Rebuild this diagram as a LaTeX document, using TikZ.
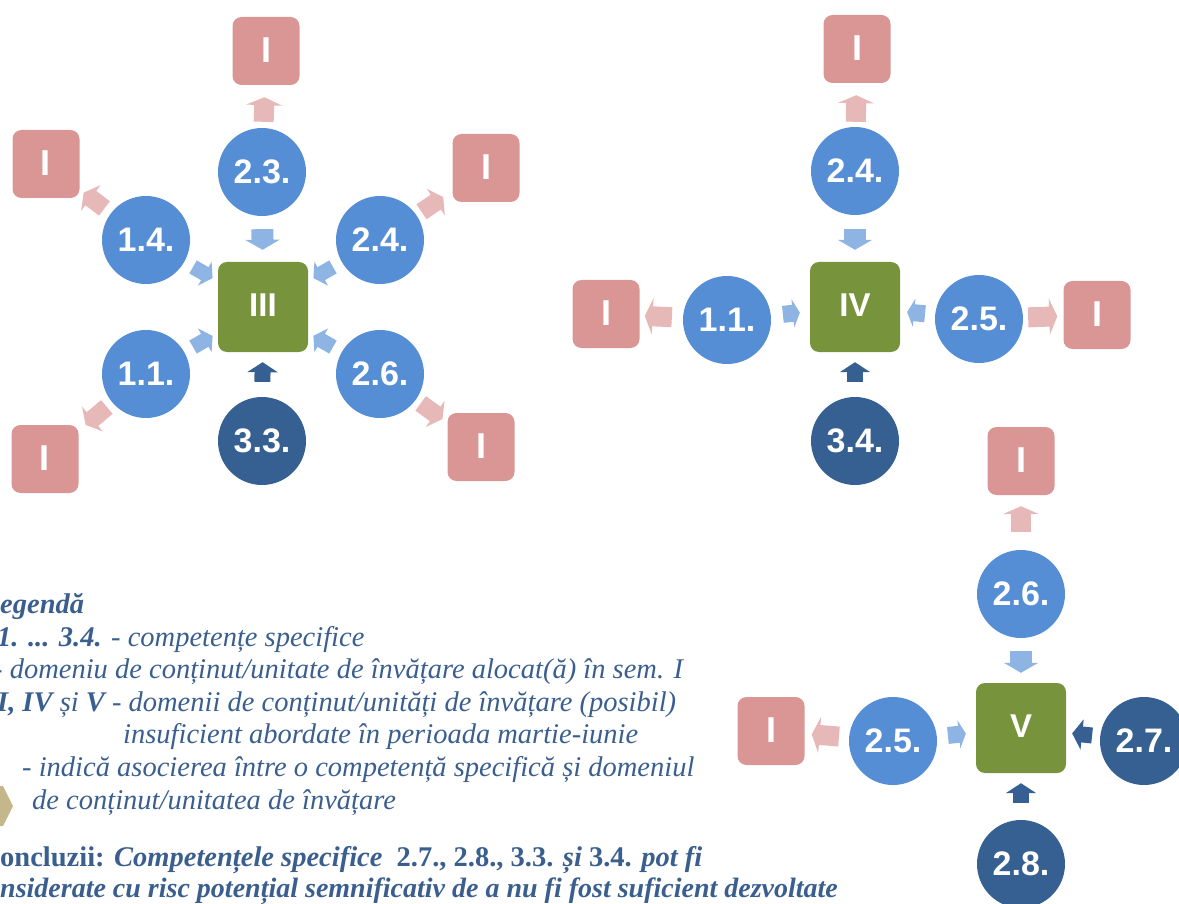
\documentclass[tikz,border=0pt]{standalone}
\usepackage{fontspec}
\setmainfont{Liberation Serif}
\newfontfamily\sansb{Liberation Sans}
\usetikzlibrary{arrows.meta}
\definecolor{cblue}{HTML}{558ED5}
\definecolor{cdark}{HTML}{366092}
\definecolor{cgreen}{HTML}{77933C}
\definecolor{cpink}{HTML}{D99694}
\definecolor{cpinkarr}{HTML}{E6B9B8}
\definecolor{cbluearr}{HTML}{8EB4E3}
\definecolor{ctext}{HTML}{3A5F8F}
\definecolor{ctan}{HTML}{C4B78C}
\tikzset{
  comp/.style={circle, fill=cblue, minimum size=88pt, inner sep=0pt, text=white, font=\sansb\bfseries\fontsize{34}{40}\selectfont},
  compd/.style={comp, fill=cdark},
  sem/.style={rectangle, rounded corners=9pt, fill=cpink, minimum width=67pt, minimum height=68pt, inner sep=0pt, text=white, font=\sansb\bfseries\fontsize{36}{40}\selectfont},
  dom/.style={rectangle, rounded corners=9pt, fill=cgreen, minimum width=90pt, minimum height=90pt, inner sep=0pt, text=white, font=\sansb\bfseries\fontsize{33}{40}\selectfont},
  parr/.style={draw=cpinkarr, line width=20pt, -{Triangle[length=8pt, width=36pt]}},
  pdarr/.style={draw=cpinkarr, line width=18pt, -{Triangle[length=9pt, width=32pt]}},
  bvarr/.style={draw=cbluearr, line width=22pt, -{Triangle[length=10pt, width=34pt]}},
  bsarr/.style={draw=cbluearr, line width=17pt, -{Triangle[length=7pt, width=28pt]}},
  bdarr/.style={draw=cbluearr, line width=15pt, -{Triangle[length=9pt, width=27pt]}},
  darr/.style={draw=cdark, line width=16pt, -{Triangle[length=10pt, width=30pt]}},
  leg/.style={anchor=base west, inner sep=0pt, text=ctext, font=\fontsize{28.5}{32}\selectfont\itshape},
}
\newcommand{\semI}{\raisebox{2pt}{I}}
\begin{document}
\begin{tikzpicture}[x=1pt, y=-1pt]
\useasboundingbox (0,0) rectangle (1179,904);
\clip (0,0) rectangle (1179,904);
% ---------------- group III
\node[sem]  (iT1)  at (266,51)  {\semI};
\node[comp] (c23)  at (262,172) {2.3.};
\node[dom]  (III)  at (263,307) {\raisebox{3pt}{III}};
\node[compd](c33)  at (262,441) {3.3.};
\node[comp] (c14)  at (146,240) {1.4.};
\node[comp] (c24)  at (380,240) {2.4.};
\node[comp] (c11)  at (146,374) {1.1.};
\node[comp] (c26)  at (380,374) {2.6.};
\node[sem]  (iTL)  at (46,164)  {\semI};
\node[sem]  (iTR)  at (486,168) {\semI};
\node[sem]  (iBL)  at (45,459)  {\semI};
\node[sem]  (iBR)  at (481,447) {\semI};
\draw[parr, shorten <=6pt, shorten >=12pt] (c23) -- (iT1);
\draw[bvarr, shorten <=13pt, shorten >=12pt] (c23) -- (III);
\draw[darr, shorten <=15pt, shorten >=10pt] (c33) -- (III);
\draw[bdarr, shorten <=10pt, shorten >=6pt] (c14) -- (III);
\draw[bdarr, shorten <=10pt, shorten >=6pt] (c24) -- (III);
\draw[bdarr, shorten <=10pt, shorten >=6pt] (c11) -- (III);
\draw[bdarr, shorten <=10pt, shorten >=6pt] (c26) -- (III);
\draw[pdarr, shorten <=8pt, shorten >=5pt] (c14) -- (iTL);
\draw[pdarr, shorten <=6pt, shorten >=11pt] (c24) -- (iTR);
\draw[pdarr, shorten <=7pt, shorten >=9pt] (c11) -- (iBL);
\draw[pdarr, shorten <=6pt, shorten >=6pt] (c26) -- (iBR);
% ---------------- group IV
\node[sem]  (iT2)  at (857,49)  {\semI};
\node[comp] (c24b) at (855,171) {2.4.};
\node[dom]  (IV)   at (855,307) {\raisebox{3pt}{IV}};
\node[compd](c34)  at (855,441) {3.4.};
\node[comp] (c11b) at (727,320) {1.1.};
\node[comp] (c25)  at (979,319) {2.5.};
\node[sem]  (iL2)  at (606,314) {\semI};
\node[sem]  (iR2)  at (1097,315) {\semI};
\draw[parr, shorten <=5pt, shorten >=12pt] (c24b) -- (iT2);
\draw[bvarr, shorten <=14pt, shorten >=12pt] (c24b) -- (IV);
\draw[darr, shorten <=15pt, shorten >=10pt] (c34) -- (IV);
\draw[bsarr, shorten <=12pt, shorten >=10pt] (c11b) -- (IV);
\draw[bsarr, shorten <=10pt, shorten >=7pt] (c25) -- (IV);
\draw[parr, shorten <=11pt, shorten >=5pt] (c11b) -- (iL2);
\draw[parr, shorten <=5pt, shorten >=6pt] (c25) -- (iR2);
% ---------------- group V
\node[sem]  (iT3)  at (1021,461) {\semI};
\node[comp] (c26c) at (1021,594) {2.6.};
\node[dom]  (V)    at (1021,728) {\raisebox{3pt}{V}};
\node[comp] (c25c) at (893,741) {2.5.};
\node[sem]  (iL3)  at (771,731) {\semI};
\node[compd](c27)  at (1144,741) {2.7.};
\node[compd](c28)  at (1021,864) {2.8.};
\draw[parr, shorten <=18pt, shorten >=11pt] (c26c) -- (iT3);
\draw[bvarr, shorten <=13pt, shorten >=10pt] (c26c) -- (V);
\draw[bsarr, shorten <=11pt, shorten >=10pt] (c25c) -- (V);
\draw[parr, shorten <=10pt, shorten >=7pt] (c25c) -- (iL3);
\draw[darr, shorten <=8pt, shorten >=6pt] (c27) -- (V);
\draw[darr, shorten <=17pt, shorten >=10pt] (c28) -- (V);
% ---------------- legend
\node[leg] (l1) at (0,613) {\bfseries\llap{L}egendă};
\node[leg] (l2) at (-3,646) {\bfseries\llap{1.}1. ... 3.4.\mdseries{} - competențe specifice};
\node[leg] (l3) at (-7,678) {- domeniu de conținut/unitate de învățare alocat(ă) în sem. I};
\node[leg] (l4) at (-3,711) {\textbf{\llap{II}I, IV} și \textbf{V} - domenii de conținut/unități de învățare (posibil)};
\node[leg] (l5) at (123,743) {insuficient abordate în perioada martie-iunie};
\node[leg] (l6) at (22,776) {- indică asocierea între o competență specifică și domeniul};
\node[leg] (l7) at (32,809) {de conținut/unitatea de învățare};
\fill[ctan] (0,786) -- (3,786) -- (13,806) -- (3,826) -- (0,826) -- cycle;
\node[leg] (l8) at (0,866) {\upshape\bfseries\llap{C}oncluzii: \itshape Competențele specifice \ \upshape 2.7., 2.8., 3.3. \itshape și \upshape 3.4. \itshape pot fi};
\node[leg, font=\fontsize{28}{32}\selectfont\itshape] (l9) at (0,897) {\bfseries\llap{co}nsiderate cu risc potențial semnificativ de a nu fi fost suficient dezvoltate};
\end{tikzpicture}
\end{document}
